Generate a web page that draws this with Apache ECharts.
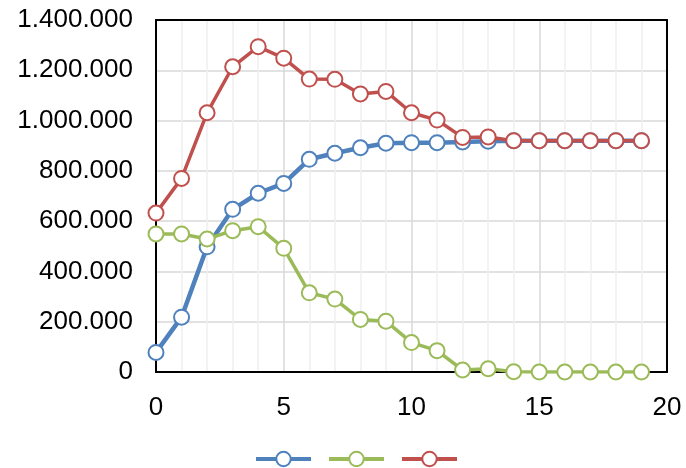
<!DOCTYPE html>
<html>
<head>
<meta charset="utf-8">
<script src="https://cdn.jsdelivr.net/npm/echarts@6/dist/echarts.min.js"></script>
<style>
  html, body { margin: 0; padding: 0; background: #fff; }
  #chart { width: 686px; height: 468px; }
</style>
</head>
<body>
<div id="chart"></div>
<script>
// x positions (time steps)
const steps = [0, 1, 2, 3, 4, 5, 6, 7, 8, 9, 10, 11, 12, 13, 14, 15, 16, 17, 18, 19];

// three series values
const blueValues = [78000, 218000, 498000, 647000, 711000, 750000, 846000, 870000, 892000, 910000,
                    912000, 912000, 915000, 918000, 920000, 920000, 920000, 920000, 920000, 920000];
const greenValues = [549000, 549000, 529000, 562000, 578000, 492000, 315000, 290000, 209000, 202000,
                     117000, 85000, 8000, 13000, 1000, 0, 0, 0, 0, 0];
const redValues = [632000, 770000, 1031000, 1214000, 1294000, 1248000, 1165000, 1164000, 1106000, 1116000,
                   1031000, 1002000, 933000, 935000, 920000, 920000, 920000, 920000, 920000, 920000];

const seriesNames = ['Serie 1', 'Serie 2', 'Serie 3'];
const seriesColors = ['#4F81BD', '#9BBB59', '#C0504D'];
const seriesValues = [blueValues, greenValues, redValues];

function fmtThousands(v) {
  return String(v).replace(/\B(?=(\d{3})+(?!\d))/g, '.');
}

const frameLine = { show: true, onZero: false, lineStyle: { color: '#000', width: 2 } };

const chart = echarts.init(document.getElementById('chart'));
chart.setOption({
  animation: false,
  textStyle: { fontFamily: 'Liberation Sans, Arial, sans-serif' },
  grid: { left: 156, right: 19, top: 20, bottom: 96 },
  xAxis: [{
    type: 'value', min: 0, max: 20, interval: 5,
    axisLine: frameLine,
    axisTick: { show: false },
    axisLabel: { color: '#000', fontSize: 26, margin: 23 },
    splitLine: { show: true, lineStyle: { color: '#d9d9d9', width: 1.5 } },
    minorTick: { show: false, splitNumber: 5 },
    minorSplitLine: { show: true, lineStyle: { color: '#efefef', width: 1.5 } }
  }, {
    // top edge of the plot frame
    type: 'value', position: 'top', min: 0, max: 20,
    axisLine: frameLine, axisTick: { show: false }, axisLabel: { show: false },
    splitLine: { show: false }
  }],
  yAxis: [{
    type: 'value', min: 0, max: 1400000, interval: 200000,
    axisLine: frameLine,
    axisTick: { show: false },
    axisLabel: { color: '#000', fontSize: 26, margin: 23, formatter: fmtThousands },
    splitLine: { show: true, lineStyle: { color: '#d9d9d9', width: 1.5 } }
  }, {
    // right edge of the plot frame
    type: 'value', position: 'right', min: 0, max: 1400000,
    axisLine: frameLine, axisTick: { show: false }, axisLabel: { show: false },
    splitLine: { show: false }
  }],
  legend: {
    top: 445, left: 249,
    itemWidth: 55, itemHeight: 18, itemGap: 14,
    formatter: () => '',
    lineStyle: { width: 4 },
    data: seriesNames
  },
  series: seriesValues.map((vals, i) => ({
    name: seriesNames[i],
    type: 'line',
    data: steps.map((x, j) => [x, vals[j]]),
    symbol: 'circle',
    symbolSize: 15,
    lineStyle: { color: seriesColors[i], width: i === 0 ? 4.5 : 3.5 },
    itemStyle: { color: '#fff', borderColor: seriesColors[i], borderWidth: 2 },
    z: 2 + i
  }))
});
</script>
</body>
</html>
